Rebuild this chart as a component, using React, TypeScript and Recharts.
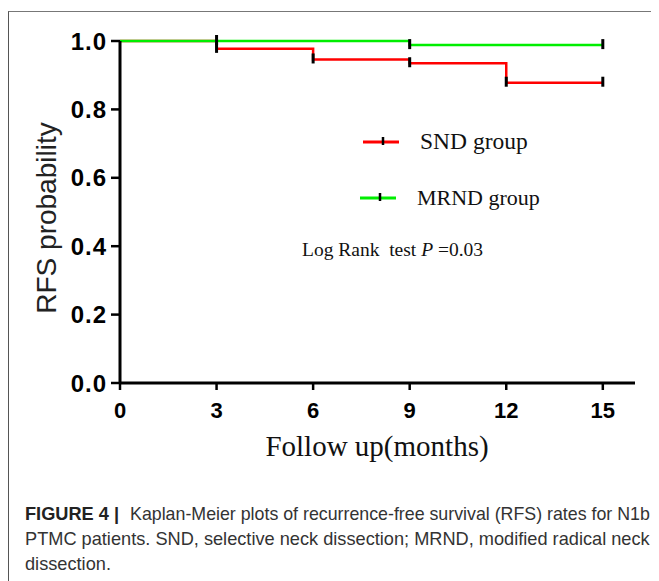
import React from "react";
import { ComposedChart, Line, Scatter, XAxis, YAxis } from "recharts";

// Kaplan-Meier step points (time in months, survival probability)
const sndCurve = [
  { t: 0, s: 1.0 },
  { t: 3, s: 0.977 },
  { t: 6, s: 0.946 },
  { t: 9, s: 0.935 },
  { t: 12, s: 0.878 },
  { t: 15, s: 0.878 },
];
const mrndCurve = [
  { t: 0, s: 1.0 },
  { t: 3, s: 1.0 },
  { t: 9, s: 0.988 },
  { t: 15, s: 0.988 },
];
// censor marks
const sndCensor = [
  { t: 3, s: 0.977 },
  { t: 6, s: 0.946 },
  { t: 9, s: 0.935 },
  { t: 12, s: 0.878 },
  { t: 15, s: 0.878 },
];
const mrndCensor = [
  { t: 3, s: 1.0 },
  { t: 9, s: 0.988 },
  { t: 15, s: 0.988 },
];
const xTicks = [0, 3, 6, 9, 12, 15];
const yTicks = [0, 0.2, 0.4, 0.6, 0.8, 1.0];
const xDomain = [0, 16];
const yDomain = [0, 1];

const seriesNames = ["SND group", "MRND group"];
const seriesColors = ["#ff0000", "#00ee00"];
const statText = ["Log Rank  test ", "P", " =0.03"];
const xLabel = "Follow up(months)";
const yLabel = "RFS probability";
const captionLines = [
  ["FIGURE 4 |", "Kaplan-Meier plots of recurrence-free survival (RFS) rates for N1b"],
  ["", "PTMC patients. SND, selective neck dissection; MRND, modified radical neck"],
  ["", "dissection."],
];

const CensorMark = (props: any) => {
  const { cx, cy } = props;
  if (cx == null || cy == null) return null;
  return <line x1={cx} x2={cx} y1={cy - 6} y2={cy + 4} stroke="#000" strokeWidth={3} />;
};

const sans = "'Liberation Sans', Arial, Helvetica, sans-serif";
const serif = "'Liberation Serif', 'Times New Roman', serif";

export default function App() {
  return (
    <div style={{ position: "relative", width: 651, height: 573, background: "#fff" }}>
      <div
        style={{
          position: "absolute",
          left: 0,
          top: 3,
          width: 651,
          height: 570,
          borderTop: "1.5px solid #777",
          borderLeft: "1.5px solid #555",
          boxSizing: "border-box",
        }}
      />
      <div style={{ position: "absolute", left: 0, top: 0 }}>
        <ComposedChart
          width={651}
          height={470}
          margin={{ top: 33, right: 24, bottom: 0, left: 0 }}
        >
          <XAxis
            dataKey="t"
            type="number"
            domain={xDomain}
            ticks={xTicks}
            allowDataOverflow
            height={95}
            tickSize={7}
            tickMargin={12}
            axisLine={{ stroke: "#000", strokeWidth: 3 }}
            tickLine={{ stroke: "#000", strokeWidth: 2.5 }}
            tick={{ fill: "#000", fontSize: 22, fontWeight: "bold", fontFamily: sans }}
          />
          <YAxis
            type="number"
            domain={yDomain}
            ticks={yTicks}
            width={112}
            tickSize={9}
            tickMargin={4}
            tickFormatter={(v: number) => v.toFixed(1)}
            axisLine={{ stroke: "#000", strokeWidth: 3 }}
            tickLine={{ stroke: "#000", strokeWidth: 2.5 }}
            tick={{ fill: "#000", fontSize: 24, fontWeight: "bold", fontFamily: sans, letterSpacing: 1 }}
          />
          <Line
            data={sndCurve}
            dataKey="s"
            type="stepAfter"
            stroke={seriesColors[0]}
            strokeWidth={2.5}
            dot={false}
            activeDot={false}
            isAnimationActive={false}
          />
          <Line
            data={mrndCurve}
            dataKey="s"
            type="stepAfter"
            stroke={seriesColors[1]}
            strokeWidth={2.5}
            dot={false}
            activeDot={false}
            isAnimationActive={false}
          />
          <Scatter data={sndCensor} dataKey="s" shape={CensorMark} isAnimationActive={false} />
          <Scatter data={mrndCensor} dataKey="s" shape={CensorMark} isAnimationActive={false} />
        </ComposedChart>
      </div>
      <svg
        style={{ position: "absolute", left: 0, top: 0, overflow: "visible" }}
        width={651}
        height={470}
      >
        {/* legend */}
        <line x1={355} x2={391} y1={134} y2={134} stroke={seriesColors[0]} strokeWidth={3} />
        <line x1={375} x2={375} y1={129} y2={137} stroke="#000" strokeWidth={2.5} />
        <text x={412} y={141} fontFamily={serif} fontSize={23.5} fill="#111">
          {seriesNames[0]}
        </text>
        <line x1={352} x2={388} y1={190} y2={190} stroke={seriesColors[1]} strokeWidth={3} />
        <line x1={372} x2={372} y1={185} y2={193} stroke="#000" strokeWidth={2.5} />
        <text x={409} y={197} fontFamily={serif} fontSize={22} fill="#111">
          {seriesNames[1]}
        </text>
        <text x={294} y={248} fontFamily={serif} fontSize={19.5} fill="#111" style={{ whiteSpace: "pre" }}>
          {statText[0]}
          <tspan fontStyle="italic">{statText[1]}</tspan>
          {statText[2]}
        </text>
        {/* axis titles */}
        <text
          x={369}
          y={448}
          textAnchor="middle"
          fontFamily={serif}
          fontSize={29}
          fill="#111"
        >
          {xLabel}
        </text>
        <text
          x={0}
          y={0}
          transform="translate(38,210) rotate(-90)"
          textAnchor="middle"
          dominantBaseline="central"
          fontFamily={sans}
          fontSize={28}
          fill="#222"
        >
          {yLabel}
        </text>
      </svg>
      <div
        style={{
          position: "absolute",
          left: 17,
          top: 494,
          fontFamily: sans,
          fontSize: 18.2,
          lineHeight: "25px",
          color: "#333",
          whiteSpace: "pre",
        }}
      >
        {captionLines.map((ln, i) =>
          ln[0] ? (
            <div key={i}>
              <b style={{ color: "#222", marginRight: 11 }}>{ln[0]}</b>
              <span style={{ fontSize: 17.8 }}>{ln[1]}</span>
            </div>
          ) : (
            <div key={i}>{ln[1]}</div>
          )
        )}
      </div>
    </div>
  );
}
